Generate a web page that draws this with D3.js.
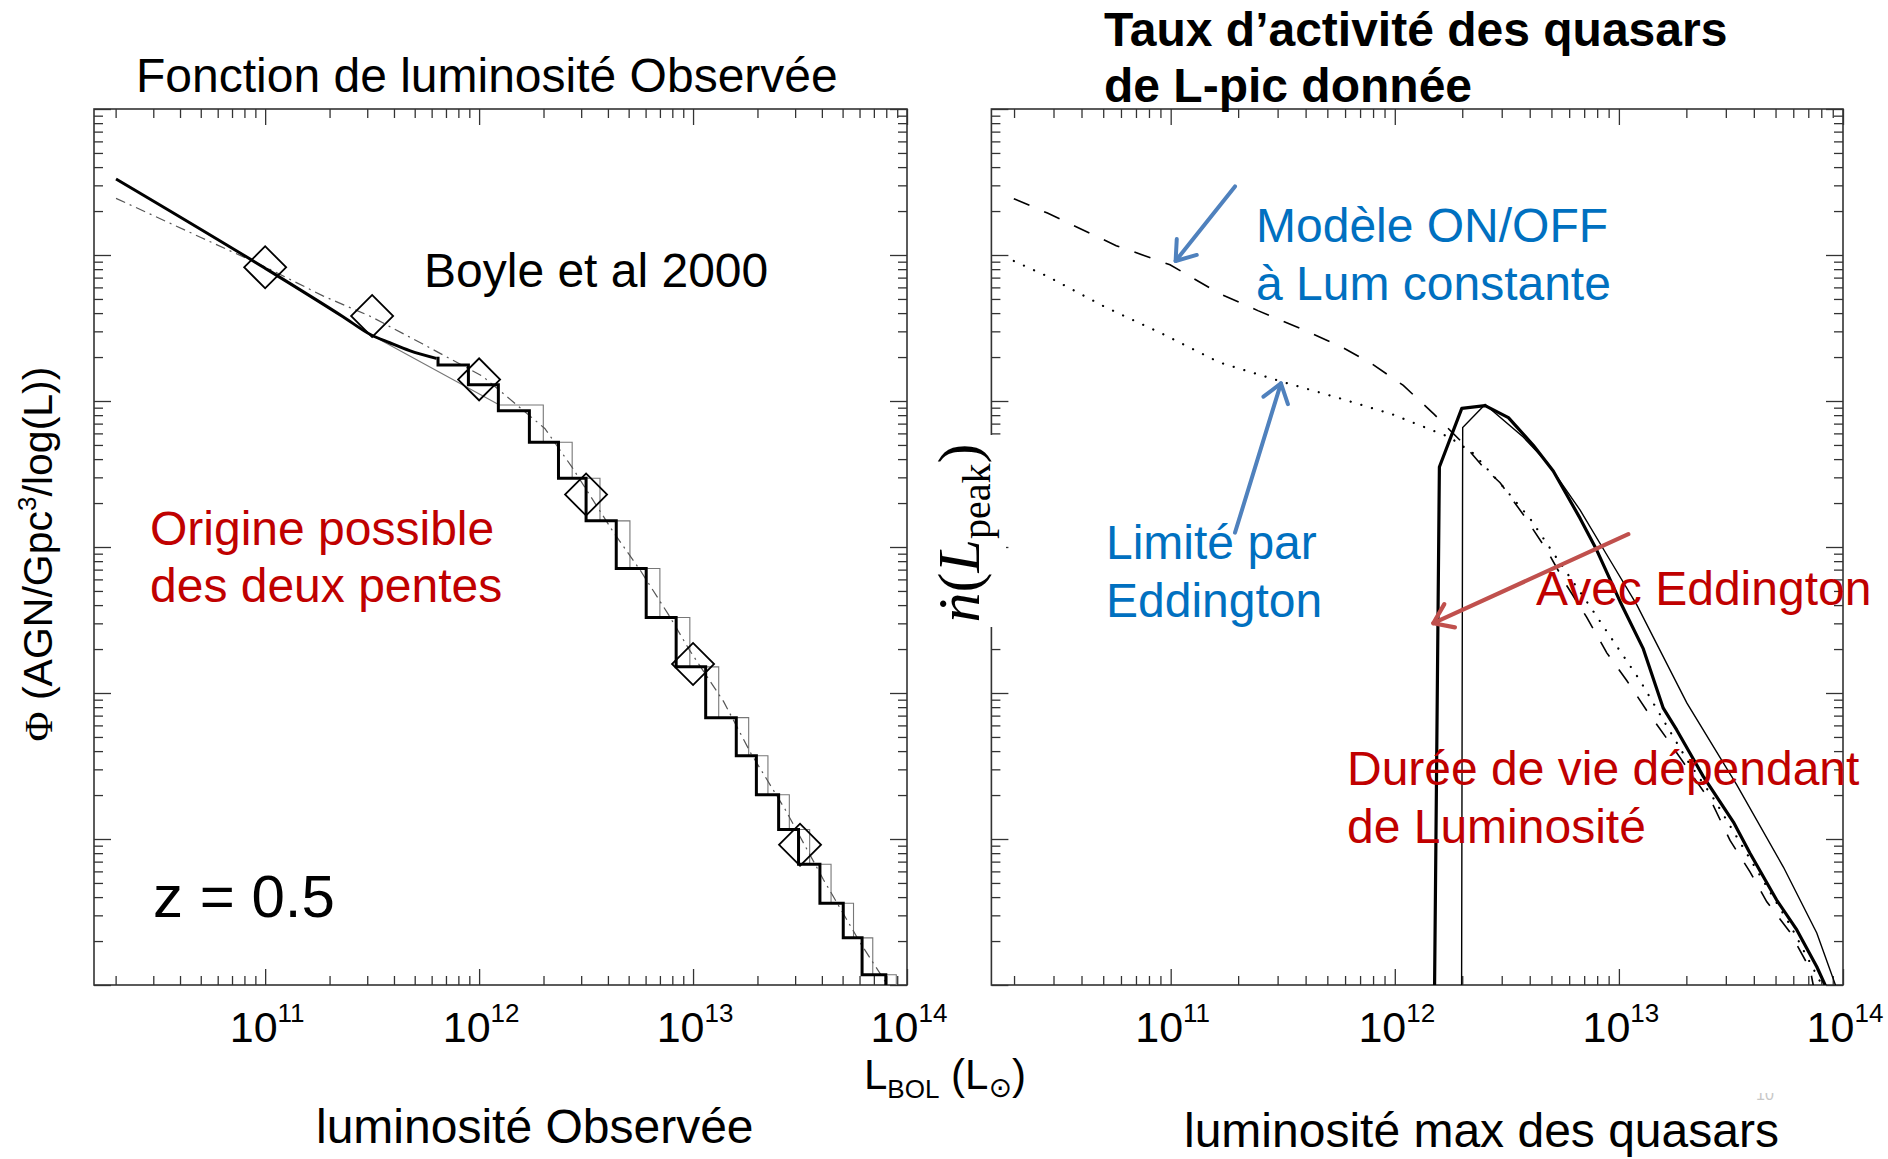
<!DOCTYPE html>
<html><head><meta charset="utf-8">
<script src="https://cdn.jsdelivr.net/npm/d3@7"></script>
<style>body{margin:0;background:#fff}svg{display:block}</style>
</head><body>
<svg id="c" width="1888" height="1159"></svg>
<script>
// ---------------- DATA (log10 values) ----------------
const xTickExps = [11, 12, 13, 14];
const xDomainLog = [10.2, 14];
const yDomainLog = [0, 6];

// Left panel: observed luminosity function (z = 0.5)
const lfModelSmooth = [[10.303,5.521],[10.998,4.911],[11.364,4.577],[11.496,4.452],[11.582,4.399],[11.675,4.345],[11.800,4.292]];
const lfModelSteps = [[11.800,4.292],[11.808,4.247],[11.950,4.112],[12.090,3.934],[12.235,3.717],[12.371,3.471],[12.500,3.179],[12.641,2.853],[12.781,2.517],[12.921,2.179],[13.059,1.831],[13.202,1.570],[13.296,1.303],[13.400,1.065],[13.493,0.827],[13.593,0.560],[13.702,0.323],[13.790,0.070],[13.901,-0.6]];
const lfThinSmooth = [[10.303,5.521],[10.998,4.911],[11.496,4.452],[11.800,4.209],[12.095,3.973]];
const lfThinSteps = [[12.095,3.973],[12.300,3.717],[12.435,3.471],[12.565,3.179],[12.705,2.853],[12.845,2.517],[12.985,2.179],[13.120,1.831],[13.260,1.570],[13.350,1.303],[13.450,1.065],[13.545,0.827],[13.645,0.560],[13.750,0.323],[13.840,0.070],[13.950,-0.6]];
const lfBoyle = [[10.303,5.388],[10.700,5.120],[10.998,4.920],[11.270,4.720],[11.496,4.577],[11.737,4.390],[12.017,4.169],[12.307,3.812],[12.435,3.545],[12.629,3.099],[12.757,2.832],[12.886,2.535],[12.982,2.297],[13.143,1.941],[13.271,1.585],[13.432,1.199],[13.609,0.723],[13.786,0.278],[13.898,0.025],[13.950,-0.2]];
const lfData = [[11.0,4.916],[11.5,4.582],[12.0,4.148],[12.5,3.359],[13.0,2.199],[13.5,0.961]];

// Right panel: activity rate vs peak luminosity
const onOffConst = [[10.300,5.386],[10.450,5.287],[10.757,5.064],[10.997,4.933],[11.218,4.736],[11.389,4.619],[11.594,4.487],[11.765,4.369],[11.901,4.251],[12.038,4.107],[12.175,3.910],[12.294,3.727],[12.397,3.544],[12.470,3.440],[12.573,3.223],[12.678,2.979],[12.767,2.736],[12.856,2.520],[12.946,2.275],[13.035,2.086],[13.124,1.880],[13.213,1.690],[13.317,1.460],[13.421,1.230],[13.496,0.990],[13.585,0.775],[13.660,0.570],[13.764,0.360],[13.853,0.110],[13.880,-0.1]];
const onOffEdd = [[10.300,4.959],[10.450,4.854],[10.706,4.645],[10.962,4.461],[11.218,4.264],[11.492,4.134],[11.731,4.029],[11.987,3.910],[12.158,3.805],[12.243,3.753],[12.350,3.642],[12.484,3.412],[12.603,3.196],[12.722,2.925],[12.856,2.627],[12.975,2.356],[13.094,2.086],[13.198,1.815],[13.303,1.544],[13.421,1.281],[13.615,0.788],[13.764,0.411],[13.906,0.0],[13.930,-0.1]];
const lifeEdd = [[12.177,-0.1],[12.199,3.548],[12.299,3.949],[12.403,3.968],[12.507,3.886],[12.618,3.697],[12.707,3.521],[12.827,3.196],[12.901,2.979],[13.005,2.627],[13.109,2.302],[13.198,1.896],[13.258,1.747],[13.377,1.427],[13.511,1.116],[13.585,0.902],[13.704,0.582],[13.794,0.377],[13.883,0.125],[13.935,-0.05]];
const lifeConst = [[12.298,-0.1],[12.303,3.819],[12.403,3.976],[12.573,3.753],[12.678,3.582],[12.827,3.253],[12.960,2.911],[13.080,2.603],[13.303,1.932],[13.526,1.370],[13.734,0.808],[13.883,0.356],[13.978,-0.05]];

// Annotation arrows (start, tip) in data coordinates
const arrowModele = [[11.287,5.470],[11.022,4.959]];
const arrowLimite = [[11.287,3.098],[11.492,4.121]];
const arrowAvec   = [[13.042,3.088],[12.172,2.478]];

// ---------------- LAYOUT ----------------
const Y0 = 109, Y1 = 985;
const FONT = "'Liberation Sans', Arial, sans-serif";
const BLUE = "#0070C0", RED = "#C00000", ABLUE = "#4F81BD", ARED = "#C0504D";

const svg = d3.select('#c');
const y  = d3.scaleLog().domain(yDomainLog.map(v => 10**v)).range([Y1, Y0]);
const xL = d3.scaleLog().domain(xDomainLog.map(v => 10**v)).range([94, 907]);
const xR = d3.scaleLog().domain(xDomainLog.map(v => 10**v)).range([991.4, 1843]);

function isMajor(v){ const l = Math.log10(v); return Math.abs(l - Math.round(l)) < 1e-6; }

function drawFrame(x, id) {
  const [x0, x1] = x.range();
  const g = svg.append('g').attr('color', '#333');
  const xt = x.ticks(), yt = y.ticks();
  const xMaj = xt.filter(isMajor), xMin = xt.filter(v => !isMajor(v));
  const yMaj = yt.filter(isMajor), yMin = yt.filter(v => !isMajor(v));
  const add = (axis, vals, size, tr) => g.append('g').attr('transform', tr)
      .call(axis.tickValues(vals).tickSize(size).tickSizeOuter(0).tickFormat(''))
      .call(s => { s.select('.domain').remove(); s.selectAll('line').attr('stroke-width', 1.3); });
  add(d3.axisBottom(x), xMaj, -16, `translate(0,${Y1})`);
  add(d3.axisBottom(x), xMin, -9,  `translate(0,${Y1})`);
  add(d3.axisTop(x),    xMaj, -16, `translate(0,${Y0})`);
  add(d3.axisTop(x),    xMin, -9,  `translate(0,${Y0})`);
  add(d3.axisLeft(y),   yMaj, -17, `translate(${x0},0)`);
  add(d3.axisLeft(y),   yMin, -9,  `translate(${x0},0)`);
  add(d3.axisRight(y),  yMaj, -17, `translate(${x1},0)`);
  add(d3.axisRight(y),  yMin, -9,  `translate(${x1},0)`);
  g.append('rect').attr('x', x0).attr('y', Y0).attr('width', x1 - x0).attr('height', Y1 - Y0)
    .attr('fill', 'none').attr('stroke', '#333').attr('stroke-width', 1.6);
  svg.append('clipPath').attr('id', id).append('rect')
    .attr('x', x0).attr('y', Y0).attr('width', x1 - x0).attr('height', Y1 - Y0);
  // tick labels
  svg.append('g').selectAll('text').data(xTickExps).join('text')
    .attr('x', e => x(10**e) + 2).attr('y', 1042).attr('text-anchor', 'middle')
    .attr('font-family', FONT).attr('font-size', 43).attr('fill', '#000')
    .each(function(e){
      const t = d3.select(this);
      t.append('tspan').text('10');
      t.append('tspan').attr('dy', -20).attr('font-size', 26).text(e);
    });
}

const lineOf = (x, curve) => d3.line().x(d => x(10**d[0])).y(d => y(10**d[1])).curve(curve || d3.curveLinear);

function text(x, yy, str, size, color, opts = {}) {
  return svg.append('text').attr('x', x).attr('y', yy).attr('font-family', FONT)
    .attr('font-size', size).attr('fill', color).attr('font-weight', opts.bold ? 'bold' : null)
    .attr('text-anchor', opts.anchor || 'start').text(str);
}

// ---------------- LEFT PANEL ----------------
drawFrame(xL, 'clipL');
const gl = svg.append('g').attr('clip-path', 'url(#clipL)').attr('fill', 'none');
gl.append('path').attr('d', lineOf(xL)(lfThinSmooth)).attr('stroke', '#777').attr('stroke-width', 1.1);
gl.append('path').attr('d', lineOf(xL, d3.curveStepAfter)(lfThinSteps)).attr('stroke', '#777').attr('stroke-width', 1.1);
gl.append('path').attr('d', lineOf(xL)(lfBoyle)).attr('stroke', '#555').attr('stroke-width', 1.2)
  .attr('stroke-dasharray', '10,5,2,5');
gl.append('path').attr('d', lineOf(xL, d3.curveMonotoneX)(lfModelSmooth)).attr('stroke', '#000').attr('stroke-width', 3);
gl.append('path').attr('d', lineOf(xL, d3.curveStepAfter)(lfModelSteps)).attr('stroke', '#000').attr('stroke-width', 3)
  .attr('stroke-linejoin', 'miter');
gl.selectAll('.dia').data(lfData).join('path').attr('class', 'dia')
  .attr('d', d3.symbol(d3.symbolSquare, 882)())
  .attr('transform', d => `translate(${xL(10**d[0])},${y(10**d[1])}) rotate(45)`)
  .attr('stroke', '#000').attr('stroke-width', 1.8).attr('fill', 'none');

// ---------------- RIGHT PANEL ----------------
drawFrame(xR, 'clipR');
const gr = svg.append('g').attr('clip-path', 'url(#clipR)').attr('fill', 'none');
gr.append('path').attr('d', lineOf(xR)(onOffConst)).attr('stroke', '#000').attr('stroke-width', 1.6)
  .attr('stroke-dasharray', '17,16');
gr.append('path').attr('d', lineOf(xR)(onOffEdd)).attr('stroke', '#000').attr('stroke-width', 2.2)
  .attr('stroke-dasharray', '0.1,11').attr('stroke-linecap', 'round');
gr.append('path').attr('d', lineOf(xR)(lifeConst)).attr('stroke', '#000').attr('stroke-width', 1.4);
gr.append('path').attr('d', lineOf(xR)(lifeEdd)).attr('stroke', '#000').attr('stroke-width', 3.2)
  .attr('stroke-linejoin', 'round');

// y label of right panel (white box hides the axis behind it)
svg.append('rect').attr('x', 928).attr('y', 435).attr('width', 78).attr('height', 192).attr('fill', '#fff');
const yl = svg.append('text').attr('transform', 'translate(979,533) rotate(-90)').attr('text-anchor', 'middle')
  .attr('font-family', "'Liberation Serif', 'DejaVu Serif', serif").attr('font-size', 60).attr('fill', '#000');
yl.append('tspan').attr('font-style', 'italic').text('ṅ');
yl.append('tspan').text('(');
yl.append('tspan').attr('font-style', 'italic').text('L');
yl.append('tspan').attr('font-size', 40).attr('dy', 11).text('peak');
yl.append('tspan').attr('dy', -11).text(')');

// arrows
function arrow(a, color, w) {
  const p0 = [xR(10**a[0][0]), y(10**a[0][1])], p1 = [xR(10**a[1][0]), y(10**a[1][1])];
  const ang = Math.atan2(p1[1] - p0[1], p1[0] - p0[0]);
  const L = 22, spread = 0.62;
  const h1 = [p1[0] - L * Math.cos(ang - spread), p1[1] - L * Math.sin(ang - spread)];
  const h2 = [p1[0] - L * Math.cos(ang + spread), p1[1] - L * Math.sin(ang + spread)];
  const g = svg.append('g').attr('stroke', color).attr('stroke-width', w).attr('fill', 'none')
    .attr('stroke-linecap', 'round').attr('stroke-linejoin', 'round');
  g.append('path').attr('d', d3.line()([p0, p1]));
  g.append('path').attr('d', d3.line()([h1, p1, h2]));
}
arrow(arrowModele, ABLUE, 4);
arrow(arrowLimite, ABLUE, 4);
arrow(arrowAvec, ARED, 4.2);

// ---------------- TEXTS ----------------
text(136, 92, 'Fonction de luminosité Observée', 48, '#000');
text(1104, 46, 'Taux d’activité des quasars', 48, '#000', {bold: true});
text(1104, 102, 'de L-pic donnée', 48, '#000', {bold: true});
text(424, 287, 'Boyle et al 2000', 48, '#000');
text(150, 545, 'Origine possible', 48, RED);
text(150, 602, 'des deux pentes', 48, RED);
text(153, 917, 'z = 0.5', 60, '#000');
text(1256, 242, 'Modèle ON/OFF', 48, BLUE);
text(1256, 300, 'à Lum constante', 48, BLUE);
text(1106, 559, 'Limité par', 48, BLUE);
text(1106, 617, 'Eddington', 48, BLUE);
text(1536, 605, 'Avec Eddington', 48, RED);
text(1347, 785, 'Durée de vie dépendant', 48, RED);
text(1347, 843, 'de Luminosité', 48, RED);
text(316, 1143, 'luminosité Observée', 48, '#000');
text(1184, 1147, 'luminosité max des quasars', 48, '#000');

// left y label
const ylab = svg.append('text').attr('transform', 'translate(52,554) rotate(-90)').attr('text-anchor', 'middle')
  .attr('font-family', FONT).attr('font-size', 41).attr('fill', '#000');
ylab.append('tspan').attr('font-family', "'Liberation Serif', serif").text('Φ');
ylab.append('tspan').text(' (AGN/Gpc');
ylab.append('tspan').attr('font-size', 26).attr('dy', -16).text('3');
ylab.append('tspan').attr('dy', 16).text('/log(L))');

// x label L_BOL (L_sun)
const xlab = svg.append('text').attr('x', 864).attr('y', 1089).attr('font-family', FONT).attr('font-size', 42).attr('fill', '#000');
xlab.append('tspan').text('L');
xlab.append('tspan').attr('font-size', 26).attr('dy', 9).text('BOL');
xlab.append('tspan').attr('dy', -9).text(' (L');
xlab.append('tspan').attr('font-size', 28).attr('dy', 8).attr('font-family', "'DejaVu Sans', sans-serif").text('⊙');
xlab.append('tspan').attr('dy', -8).text(')');

// faint page number, partly hidden
text(1765, 1100, '10', 16, '#c8c8c8', {anchor: 'middle'});
svg.append('rect').attr('x', 1745).attr('y', 1078).attr('width', 45).attr('height', 15).attr('fill', '#fff');
</script>
</body></html>
